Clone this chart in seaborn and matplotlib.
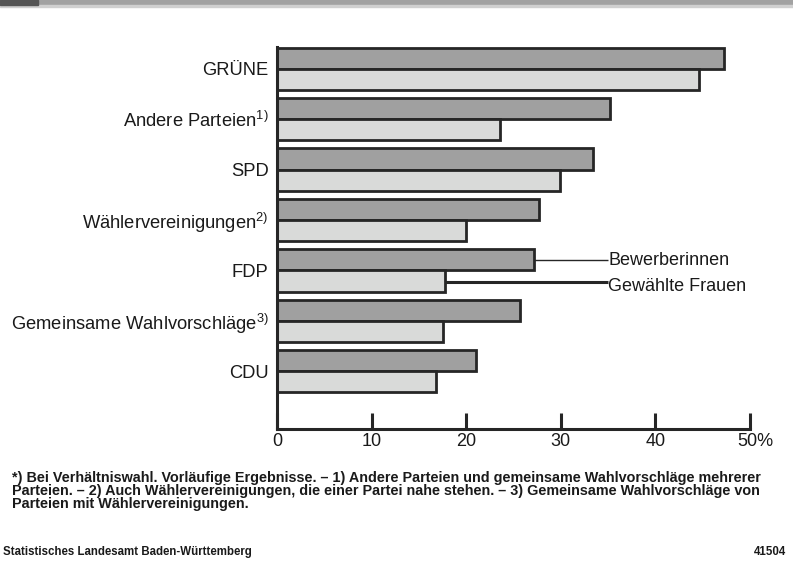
import pandas as pd
import seaborn as sns
import matplotlib.pyplot as plt
from matplotlib.patches import Rectangle
from matplotlib.transforms import ScaledTranslation

# Daten: Anteil Frauen in % (Bewerberinnen / gewählte Frauen)
parteien = [
    "GRÜNE",
    "Andere Parteien$^{1)}$",
    "SPD",
    "Wählervereinigungen$^{2)}$",
    "FDP",
    "Gemeinsame Wahlvorschläge$^{3)}$",
    "CDU",
]
bewerberinnen = [47.3, 35.2, 33.4, 27.7, 27.2, 25.7, 21.0]
gewaehlte = [44.6, 23.6, 29.9, 20.0, 17.8, 17.5, 16.8]
reihen = ["Bewerberinnen", "Gewählte Frauen"]
x_ticks = [0, 10, 20, 30, 40, 50]
x_labels = ["0", "10", "20", "30", "40", "50%"]

df = pd.DataFrame({
    "Partei": parteien * 2,
    "Wert": bewerberinnen + gewaehlte,
    "Reihe": [reihen[0]] * len(parteien) + [reihen[1]] * len(parteien),
})

sns.set_style("white")
plt.rcParams["font.family"] = ["Liberation Sans", "DejaVu Sans"]
plt.rcParams["mathtext.fontset"] = "custom"
plt.rcParams["mathtext.rm"] = "Liberation Sans"
plt.rcParams["mathtext.default"] = "regular"

dunkel = "#a0a0a0"
hell = "#d9dad9"
rand = "#262626"
text = "#1a1a1a"

fig = plt.figure(figsize=(7.93, 5.63), dpi=100)
ax = fig.add_axes([0.3493, 0.238, 0.5965, 0.6794])

sns.barplot(
    data=df, y="Partei", x="Wert", hue="Reihe", orient="h",
    palette=[dunkel, hell], saturation=1, width=0.84,
    edgecolor=rand, linewidth=2.0, legend=False, ax=ax,
)

ax.set_xlim(0, 50)
ax.set_ylim(7.146, -0.44)
ax.set_xticks(x_ticks)
ax.set_xticklabels(x_labels, fontsize=13, color=text)
ax.tick_params(axis="x", bottom=True, direction="in", length=11.5, width=2.2,
               color=rand, pad=3)
ax.tick_params(axis="y", left=False, length=0, pad=6, labelsize=13.2, labelcolor=text)
ax.set_xlabel("")
ax.set_ylabel("")
for s in ["top", "right"]:
    ax.spines[s].set_visible(False)
for s in ["left", "bottom"]:
    ax.spines[s].set_linewidth(2.2)
    ax.spines[s].set_color(rand)
lbl50 = ax.get_xticklabels()[-1]
lbl50.set_transform(lbl50.get_transform() + ScaledTranslation(5 / 100, 0, fig.dpi_scale_trans))

# Beschriftung an den FDP-Balken
i_fdp = parteien.index("FDP")
x_txt = 35.0
ax.plot([bewerberinnen[i_fdp], x_txt], [i_fdp - 0.21, i_fdp - 0.21],
        color=rand, lw=1.0, solid_capstyle="butt")
ax.plot([gewaehlte[i_fdp], x_txt], [i_fdp + 0.23, i_fdp + 0.23],
        color=rand, lw=2.2, solid_capstyle="butt")
ax.text(x_txt, i_fdp - 0.19, reihen[0], va="center", ha="left",
        fontsize=13, color=text)
ax.text(x_txt, i_fdp + 0.32, reihen[1], va="center", ha="left",
        fontsize=13, color=text)

# Kopfbalken
fig.patches.append(Rectangle((0, 1 - 5 / 563), 1, 5 / 563, transform=fig.transFigure,
                             color="#a2a2a2", zorder=0))
fig.patches.append(Rectangle((0, 1 - 5 / 563), 38 / 793, 5 / 563, transform=fig.transFigure,
                             color="#555555", zorder=1))
fig.patches.append(Rectangle((0, 1 - 7 / 563), 1, 2 / 563, transform=fig.transFigure,
                             color="#d0d0d0", zorder=0))

fussnote = (
    "*) Bei Verhältniswahl. Vorläufige Ergebnisse. – 1) Andere Parteien und gemeinsame Wahlvorschläge mehrerer\n"
    "Parteien. – 2) Auch Wählervereinigungen, die einer Partei nahe stehen. – 3) Gemeinsame Wahlvorschläge von\n"
    "Parteien mit Wählervereinigungen."
)
fig.text(12 / 793, 1 - 471 / 563, fussnote, ha="left", va="top", fontsize=10.4,
         fontweight="bold", color=text, linespacing=0.9)
fig.text(3 / 793, 1 - 552 / 563, "Statistisches Landesamt Baden-Württemberg",
         ha="left", va="center", fontsize=8.3, fontweight="bold", color=text)
fig.text(786 / 793, 1 - 552 / 563, "41504", ha="right", va="center", fontsize=8.3,
         fontweight="bold", color=text)

fig.savefig("out.png", dpi=100)
